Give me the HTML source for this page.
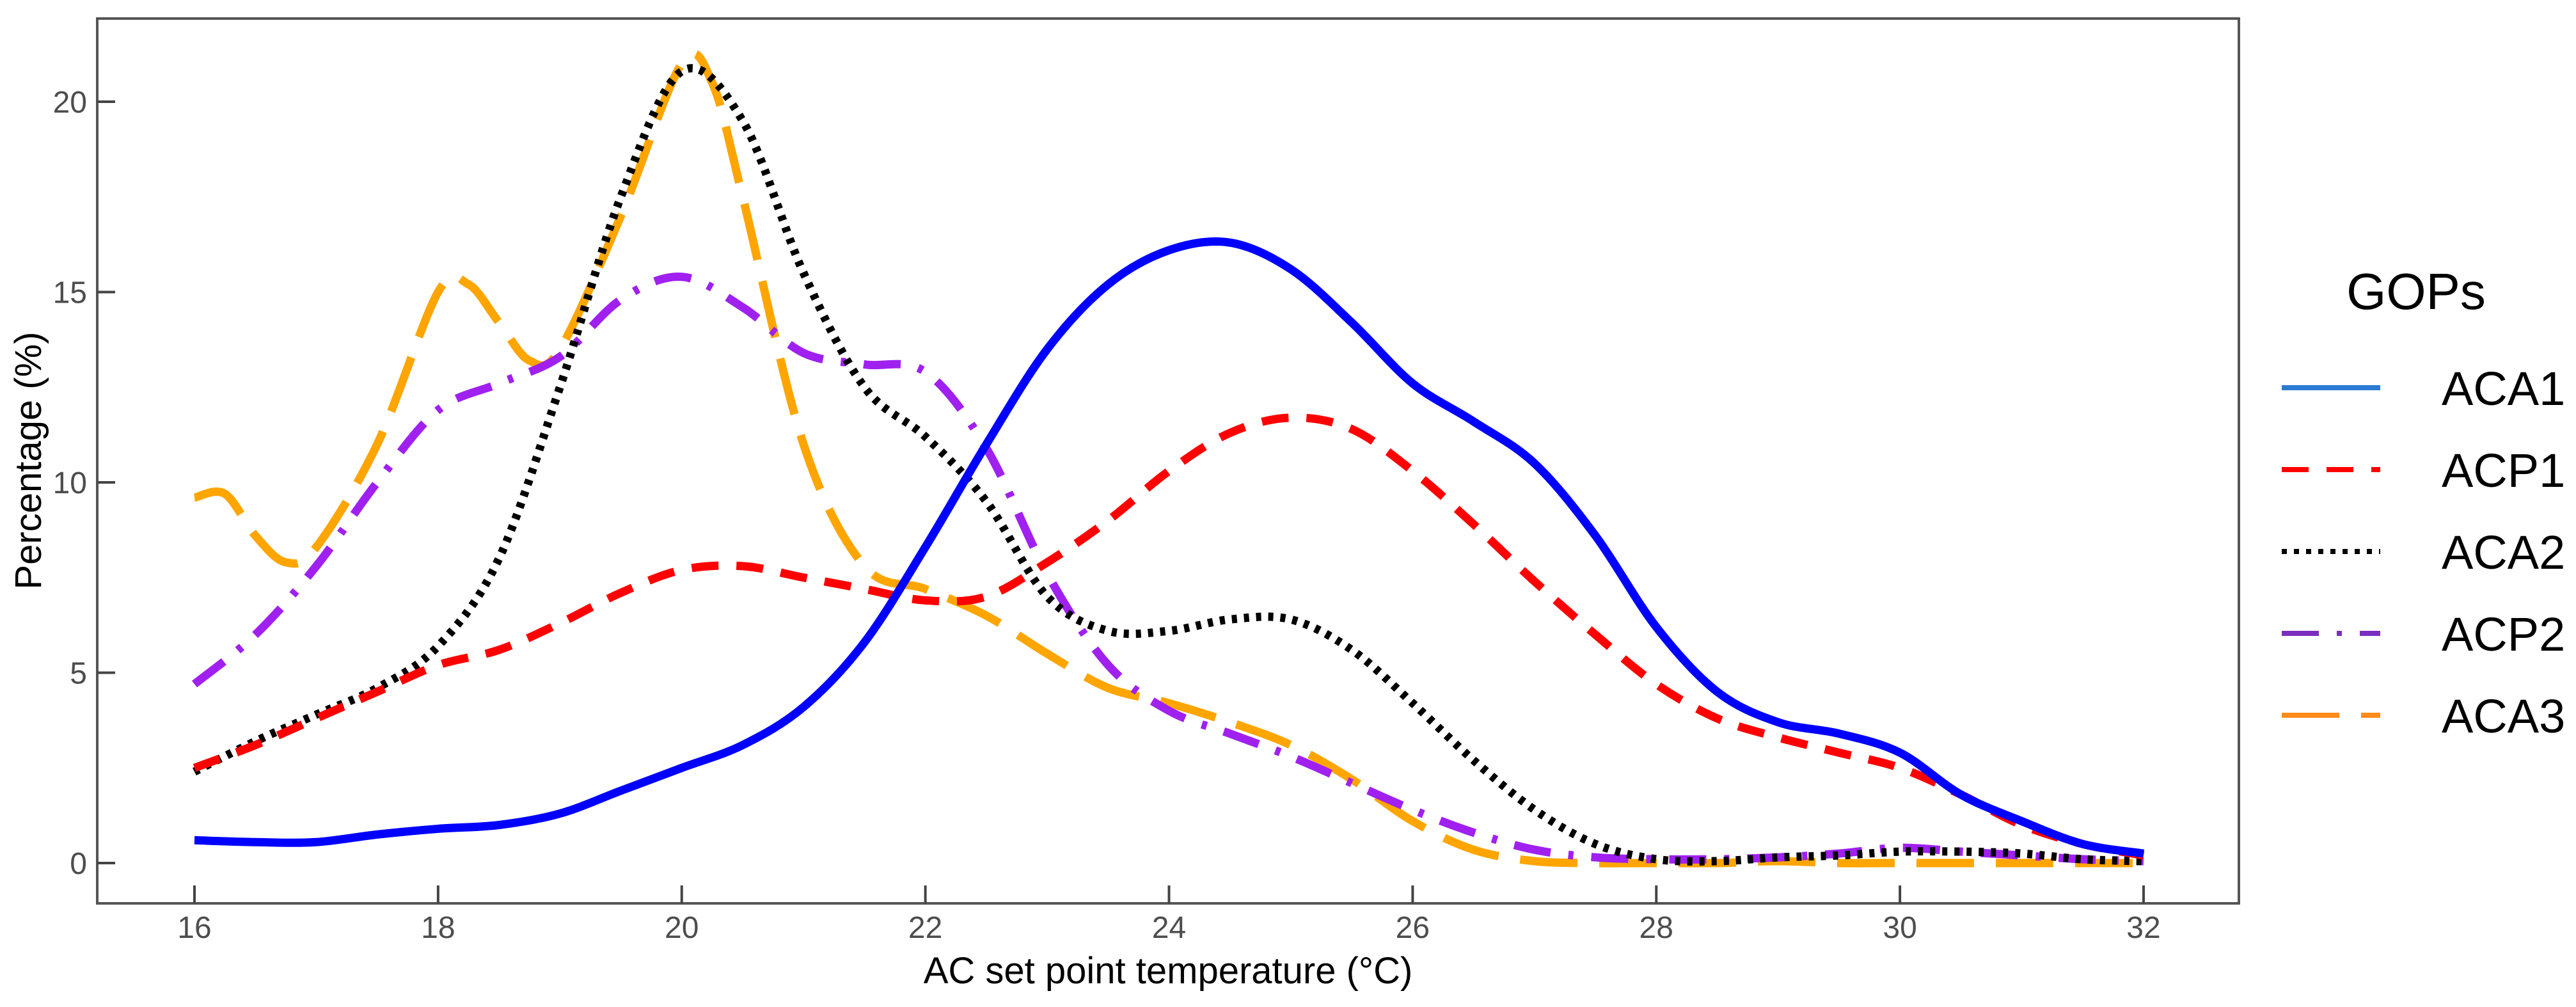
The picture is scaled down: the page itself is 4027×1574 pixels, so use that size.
<!DOCTYPE html>
<html><head><meta charset="utf-8"><style>
html,body{margin:0;padding:0;background:#fff;}
svg{display:block;font-family:"Liberation Sans",Arial,sans-serif;}
</style></head><body>
<svg id="chart" width="4027" height="1574" viewBox="0 0 4027 1574" xmlns="http://www.w3.org/2000/svg">
<rect x="0" y="0" width="4027" height="1574" fill="#fff"/>
<g id="series"></g>
<rect x="152" y="29" width="3348" height="1383" fill="none" stroke="#555" stroke-width="4"/>
<g id="axes"></g>
<text x="1826" y="1537" font-size="58" text-anchor="middle" fill="#000">AC set point temperature (°C)</text>
<text transform="translate(64,720) rotate(-90)" font-size="58" text-anchor="middle" fill="#000">Percentage (%)</text>
<g id="legend">
<text x="3777" y="483" font-size="80" text-anchor="middle" fill="#000">GOPs</text>
</g>
</svg>
<script>
const xTicks = [16,18,20,22,24,26,28,30,32];
const yTicks = [0,5,10,15,20];
const seriesNames = ["ACA1","ACP1","ACA2","ACP2","ACA3"];
const xACA1 = [16,16.5,17,17.5,18,18.5,19,19.5,20,20.5,21,21.5,22,22.5,23,23.5,24,24.5,25,25.5,26,26.5,27,27.5,28,28.5,29,29.5,30,30.5,31,31.5,32];
const yACA1 = [0.6,0.55,0.55,0.75,0.9,1.0,1.3,1.9,2.5,3.1,4.1,5.8,8.3,11,13.5,15.2,16.1,16.3,15.6,14.2,12.6,11.6,10.5,8.6,6.2,4.5,3.7,3.4,2.9,1.8,1.1,0.5,0.25];
const xACP1 = xACA1;
const yACP1 = [2.5,3.1,3.8,4.5,5.2,5.6,6.3,7.1,7.7,7.8,7.5,7.2,6.9,7.0,7.9,9.0,10.3,11.3,11.7,11.4,10.3,8.9,7.4,6.0,4.7,3.8,3.3,2.9,2.5,1.8,1.0,0.5,0.2];
const xACA2 = xACA1;
const yACA2 = [2.4,3.2,3.9,4.6,5.7,8.0,12.5,17.5,20.8,19.5,15.5,12.5,11.2,9.5,7.0,6.1,6.1,6.4,6.4,5.6,4.2,2.7,1.4,0.5,0.1,0.05,0.15,0.2,0.3,0.3,0.25,0.1,0.05];
const xACP2 = xACA1;
const yACP2 = [4.7,6.0,7.8,10.0,11.9,12.6,13.3,14.8,15.4,14.6,13.4,13.1,12.9,10.9,7.6,5.2,4.0,3.4,2.8,2.1,1.4,0.8,0.35,0.15,0.1,0.1,0.15,0.25,0.4,0.3,0.2,0.1,0.05];
const xACA3 = [16,16.25,16.5,16.75,17,17.5,18,18.25,18.5,18.75,19,19.5,20,20.25,20.5,21,21.5,22,22.5,23,23.5,24,24.5,25,25.5,26,26.5,27,27.5,28,28.5,29,29.5,30,31,32];
const yACA3 = [9.6,9.7,8.6,7.9,8.3,11.0,15.0,15.2,14.2,13.2,13.5,17.0,21.0,20.5,17.5,11.0,7.8,7.2,6.5,5.5,4.6,4.2,3.7,3.1,2.2,1.1,0.35,0.05,0,0,0,0.05,0,0,0,0];

const NS = "http://www.w3.org/2000/svg";
function xScale(v){ return 304 + (v-16)*(3351-304)/16; }
function yScale(v){ return 1349 - v*59.5; }
function mk(tag, attrs, parent){ const e=document.createElementNS(NS,tag); for(const k in attrs) e.setAttribute(k,attrs[k]); parent.appendChild(e); return e; }

const axes = document.getElementById('axes');
xTicks.forEach(t=>{
  const l = mk('line',{x1:xScale(t),x2:xScale(t),y1:1412,y2:1384,stroke:'#444','stroke-width':4},axes);
  
  
  const tx = mk('text',{x:xScale(t),y:1466,'font-size':48,'text-anchor':'middle',fill:'#4d4d4d'},axes);
  tx.textContent = t;
  
  
});
yTicks.forEach(t=>{
  const l = mk('line',{x1:152,x2:180,y1:yScale(t),y2:yScale(t),stroke:'#444','stroke-width':4},axes);
  
  
  const tx = mk('text',{x:136,y:yScale(t)+17,'font-size':48,'text-anchor':'end',fill:'#4d4d4d'},axes);
  tx.textContent = t;
  
  
});

function pathFrom(xs, ys){
  const p = xs.map((x,i)=>[xScale(x), yScale(ys[i])]);
  let d = 'M'+p[0][0]+','+p[0][1];
  for(let i=0;i<p.length-1;i++){
    const p0=p[Math.max(0,i-1)], p1=p[i], p2=p[i+1], p3=p[Math.min(p.length-1,i+2)];
    const c1=[p1[0]+(p2[0]-p0[0])/6, p1[1]+(p2[1]-p0[1])/6];
    const c2=[p2[0]-(p3[0]-p1[0])/6, p2[1]-(p3[1]-p1[1])/6];
    d += ' C'+c1[0]+','+c1[1]+' '+c2[0]+','+c2[1]+' '+p2[0]+','+p2[1];
  }
  return d;
}
const styles = [
  {c:'#0000ff', dash:'', lc:'#2b7bd6'},
  {c:'#ff0000', dash:'42 28', lc:'#ff0000'},
  {c:'#000000', dash:'8 11', lc:'#000000'},
  {c:'#a020f0', dash:'58 28 8 28', lc:'#7b2fbe'},
  {c:'#ffa500', dash:'90 34', lc:'#ff8c1a'}
];
const xsAll=[xACA1,xACP1,xACA2,xACP2,xACA3], ysAll=[yACA1,yACP1,yACA2,yACP2,yACA3];
const sg = document.getElementById('series');
[4,3,2,1,0].forEach(i=>{
  const path = mk('path',{d:pathFrom(xsAll[i],ysAll[i]),fill:'none',stroke:styles[i].c,'stroke-width':13,'stroke-dasharray':styles[i].dash,'stroke-linejoin':'round'},sg);
  
  
});
const lg = document.getElementById('legend');
seriesNames.forEach((n,i)=>{
  const y = 606 + i*128;
  const ll = mk('line',{x1:3567,x2:3721,y1:y,y2:y,stroke:styles[i].lc,'stroke-width':8,'stroke-dasharray':styles[i].dash},lg);
  
  
  const t = mk('text',{x:3817,y:y+27,'font-size':74,fill:'#000'},lg);
  t.textContent = n;
  
  
});
</script>
</body></html>
